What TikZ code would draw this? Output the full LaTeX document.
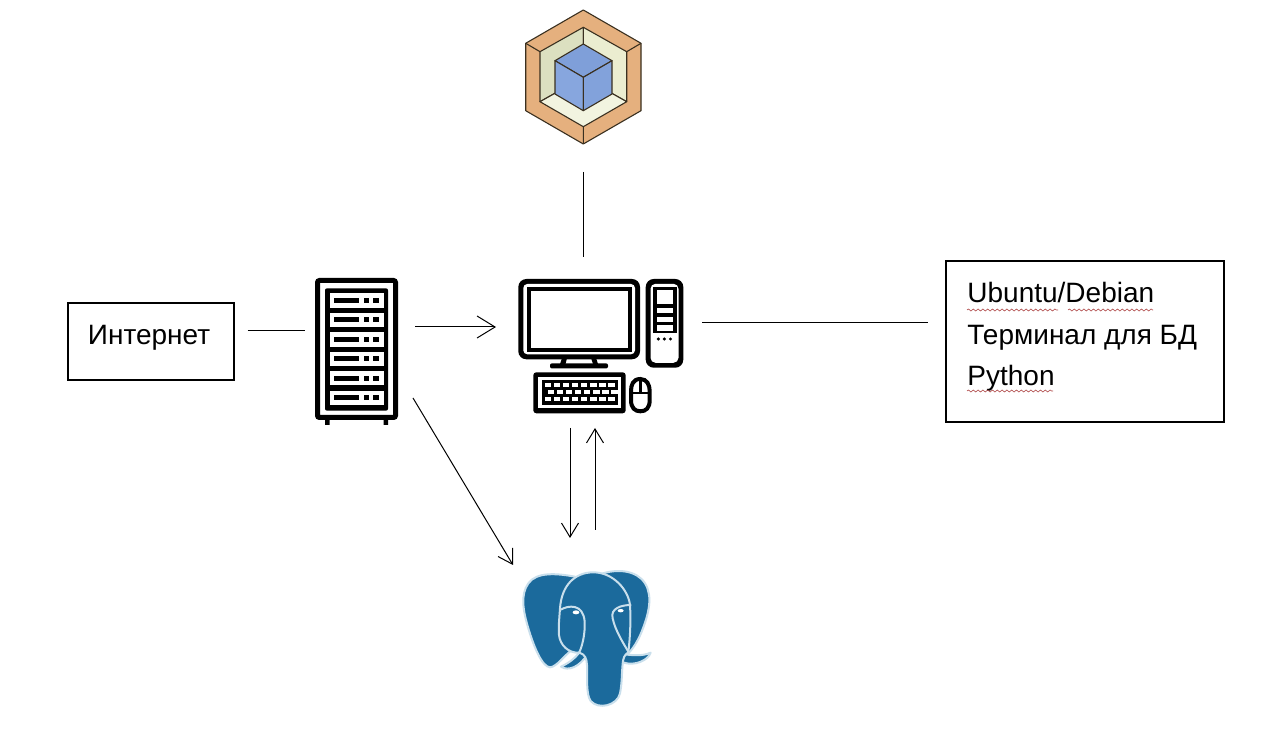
\documentclass[tikz,border=0pt]{standalone}
\usepackage{fontspec}
\setmainfont{Liberation Sans}
\usetikzlibrary{arrows.meta,decorations.pathmorphing,calc}
\definecolor{hexor}{HTML}{E5B07E}
\definecolor{hexl}{HTML}{DCE0C0}
\definecolor{hexr}{HTML}{EBEDD0}
\definecolor{hexb}{HTML}{F2F4E0}
\definecolor{cubet}{HTML}{7F9FD9}
\definecolor{cubel}{HTML}{87A6DE}
\definecolor{cuber}{HTML}{82A2DB}
\definecolor{hexline}{HTML}{3A3020}
\definecolor{pgblue}{HTML}{1B6A9C}
\definecolor{pgline}{HTML}{C9DFEC}
\definecolor{squig}{HTML}{B04A4A}
\tikzset{
  x=0.5pt,y=-0.5pt,
  conn/.style={draw=black,line width=0.5pt},
  connarrow/.style={conn,-{Straight Barb[length=7pt,width=8.5pt,line width=0.5pt]}},
  connarrowbig/.style={conn,-{Straight Barb[length=9pt,width=11pt,line width=0.5pt]}},
  textbox/.style={draw=black,line width=0.6pt,inner sep=0pt,font=\fontsize{14pt}{17pt}\selectfont},
  hull/.style={inner sep=0pt,outer sep=0pt},
  label/.style={inner sep=0pt,anchor=base west,font=\fontsize{14pt}{17pt}\selectfont},
  hexface/.style={draw=hexline,line width=0.55pt,line join=round},
  hexedge/.style={draw=hexline,line width=0.55pt},
  iconline/.style={draw=black,line width=2.5pt,rounded corners=1pt,fill=white},
  blk/.style={fill=black},
  wht/.style={fill=white},
  elephant/.style={fill=pgblue,draw=pgline,line width=1pt,line join=round},
  pgstroke/.style={draw=pgline,line width=1pt,line cap=round},
  wavy/.style={draw=squig,line width=0.3pt,decorate,decoration={snake,amplitude=0.5pt,segment length=2.4pt}}
}
\begin{document}
\begin{tikzpicture}
\useasboundingbox[fill=white] (0,0) rectangle (1280,731);

% ---- nodes (hulls around icons)
\node[hull,minimum width=58pt,minimum height=81pt] (logo) at (583,91) {};
\node[hull,minimum width=103pt,minimum height=85.5pt] (pc) at (599,342.5) {};
\node[hull,minimum width=55pt,minimum height=73.5pt] (srv) at (360,351.5) {};
\node[hull,minimum width=73.5pt,minimum height=88.5pt] (pg) at (586.5,618.5) {};
\node[textbox,minimum width=83pt,minimum height=38.5pt] (inet) at (151,341.5) {};
\node[label,anchor=base] (inettext) at (149,344.5) {Интернет};
\node[textbox,minimum width=139pt,minimum height=80.5pt] (info) at (1085,341.5) {};
\node[label] (l1) at (967,303) {Ubuntu/Debian};
\node[label] (l2) at (967,344.5) {Терминал для БД};
\node[label] (l3) at (967,385.5) {Python};

% ---- spell-check squiggles
\draw[wavy] (967,310) -- (1058,310);
\draw[wavy] (1068,310) -- (1153,310);
\draw[wavy] (967,391) -- (1053,391);

% ---- hexagon logo
\fill[hexor] (583.3,10) -- (641,43.3) -- (641,110.7) -- (583.3,144) -- (525.7,110.7) -- (525.7,43.3) -- cycle;
\filldraw[hexface,fill=hexl] (583.3,27.3) -- (540,51.7) -- (540,101.7) -- (583.3,77.3) -- cycle;
\filldraw[hexface,fill=hexr] (583.3,27.3) -- (626.7,51.7) -- (626.7,101.7) -- (583.3,77.3) -- cycle;
\filldraw[hexface,fill=hexb] (540,101.7) -- (583.3,77.3) -- (626.7,101.7) -- (583.3,126.7) -- cycle;
\draw[hexface] (583.3,10) -- (641,43.3) -- (641,110.7) -- (583.3,144) -- (525.7,110.7) -- (525.7,43.3) -- cycle;
\draw[hexedge] (641,43.3) -- (626.7,51.7) (525.7,43.3) -- (540,51.7) (583.3,144) -- (583.3,126.7);
\filldraw[hexface,fill=cubet] (583.3,44) -- (612,60.7) -- (583.3,77.3) -- (555,60.7) -- cycle;
\filldraw[hexface,fill=cubel] (555,60.7) -- (583.3,77.3) -- (583.3,110.7) -- (555,94) -- cycle;
\filldraw[hexface,fill=cuber] (612,60.7) -- (583.3,77.3) -- (583.3,110.7) -- (612,94) -- cycle;

% ---- server rack
\fill[blk] (325,416) rectangle (329.5,425) (383.5,416) rectangle (388,425);
\draw[iconline] (317.5,280.5) rectangle (395.5,417.5);
\fill[blk,rounded corners=1pt] (325,288.3) rectangle (388,410.7);
\foreach \t in {293.3,312.8,332.3,351.8,371.1,390.6}{
  \fill[wht] (330,\t) rectangle (384,\t+14.4);
  \fill[blk] (334.3,\t+4.7) rectangle (359.3,\t+9.7);
  \fill[blk] (364,\t+4.7) rectangle (369.3,\t+9.7);
  \fill[blk] (373.3,\t+4.7) rectangle (378.7,\t+9.7);
}

% ---- desktop computer
\fill[blk,rounded corners=4pt] (518.3,279) rectangle (640,359.3);
\fill[wht,rounded corners=2pt] (523.3,284) rectangle (635,354.3);
\fill[blk] (526.7,286.7) rectangle (632.3,351.7);
\fill[wht] (530.7,290.7) rectangle (628.3,347.7);
\fill[blk] (562,358) -- (567,358) -- (565.5,364) -- (560,364) -- cycle;
\fill[blk] (591,358) -- (596,358) -- (598,364) -- (593,364) -- cycle;
\fill[blk,rounded corners=1pt] (550,363.3) rectangle (608,368.5);
\fill[blk,rounded corners=4pt] (645.7,279) rectangle (683.3,367.7);
\fill[wht,rounded corners=2.5pt] (650.5,283.8) rectangle (678.5,362.8);
\fill[blk] (652.5,286.7) rectangle (676.5,333.3);
\fill[wht] (656.7,290) rectangle (672.5,304.3);
\fill[wht] (656.7,307.7) rectangle (672.5,313.3);
\fill[wht] (656.7,316.7) rectangle (672.5,322.3);
\fill[wht] (656.7,325) rectangle (672.5,330.7);
\fill[blk] (658.3,339) circle (1.7) (664.3,339) circle (1.7) (670.5,339) circle (1.7);
\fill[blk,rounded corners=1.5pt] (533.3,372.3) rectangle (625.7,413.3);
\fill[wht] (538.3,377.3) rectangle (620.7,408.3);
\fill[blk] (541.7,380) rectangle (617.7,405);
\foreach \i in {0,...,7}{
  \fill[wht] (544.5+9.1*\i,383.5) rectangle (551+9.1*\i,387.5);
  \fill[wht] (547.5+9.1*\i,390.5) rectangle (554+9.1*\i,394.5);
  \fill[wht] (544.5+9.1*\i,397.5) rectangle (551+9.1*\i,401.5);
}
\draw[draw=black,line width=2pt,fill=white] (640.3,379) .. controls (633,379) and (631,385) .. (631,391) -- (631,400) .. controls (631,408) and (635,411.3) .. (640.3,411.3) .. controls (646,411.3) and (649.7,408) .. (649.7,400) -- (649.7,391) .. controls (649.7,385) and (647,379) .. (640.3,379) -- cycle;
\draw[draw=black,line width=1.2pt] (631,393) -- (649.7,393) (640.3,381) -- (640.3,393);

% ---- PostgreSQL elephant
\begin{scope}[shift={(500,555)},scale=1/3]
\filldraw[elephant] (225,65) .. controls (170,55) and (110,50) .. (85,85) .. controls (60,120) and (70,170) .. (85,220) .. controls (100,270) and (125,335) .. (150,337) .. controls (170,335) and (190,305) .. (215,285) -- cycle;
\filldraw[elephant] (300,58) .. controls (350,40) and (410,45) .. (435,85) .. controls (460,125) and (445,180) .. (425,230) .. controls (415,255) and (400,280) .. (385,295) -- cycle;
\filldraw[elephant] (262,298) .. controls (240,335) and (205,350) .. (183,335) .. controls (205,325) and (225,310) .. (238,293) -- cycle;
\filldraw[elephant] (372,298) .. controls (395,300) and (425,305) .. (452,293) .. controls (445,315) and (405,335) .. (368,322) -- cycle;
\filldraw[elephant] (180,160) .. controls (185,90) and (225,52) .. (280,52) .. controls (340,52) and (385,105) .. (390,150) .. controls (393,200) and (390,250) .. (385,292) .. controls (372,300) and (370,310) .. (368,325) .. controls (365,360) and (366,385) .. (360,415) .. controls (352,452) and (295,465) .. (272,438) .. controls (258,418) and (262,370) .. (261,330) .. controls (260,310) and (255,298) .. (238,293) .. controls (205,295) and (180,270) .. (177,240) .. controls (175,215) and (178,190) .. (180,160) -- cycle;
\draw[pgstroke] (180,165) .. controls (205,150) and (250,145) .. (254,200) .. controls (256,240) and (245,280) .. (236,295);
\draw[pgstroke] (392,150) .. controls (365,150) and (330,160) .. (338,190) .. controls (345,225) and (370,265) .. (385,290);
\fill[white] (228,172) ellipse (10 and 6);
\fill[white] (362,167) ellipse (9 and 5);
\end{scope}

% ---- connectors
\draw[conn] (logo.south) -- ([xshift=-8pt]pc.north);
\draw[conn] ([xshift=6.5pt,yshift=5.25pt]inet.east) -- ([yshift=10.25pt]srv.west);
\draw[connarrowbig] ([yshift=12.25pt]srv.east) -- ([yshift=7.75pt]pc.west);
\draw[conn] ([yshift=9.75pt]pc.east) -- ([xshift=-8.5pt,yshift=9.25pt]info.west);
\draw[connarrow] ([xshift=-1pt,yshift=-23.25pt]srv.east) -- ([yshift=26.75pt]pg.west);
\draw[connarrow] ([xshift=-14.5pt]pc.south) -- ([xshift=-8.25pt,yshift=-4pt]pg.north);
\draw[connarrow] ([xshift=4.25pt]pg.north) -- ([xshift=-2pt]pc.south);
\end{tikzpicture}
\end{document}
